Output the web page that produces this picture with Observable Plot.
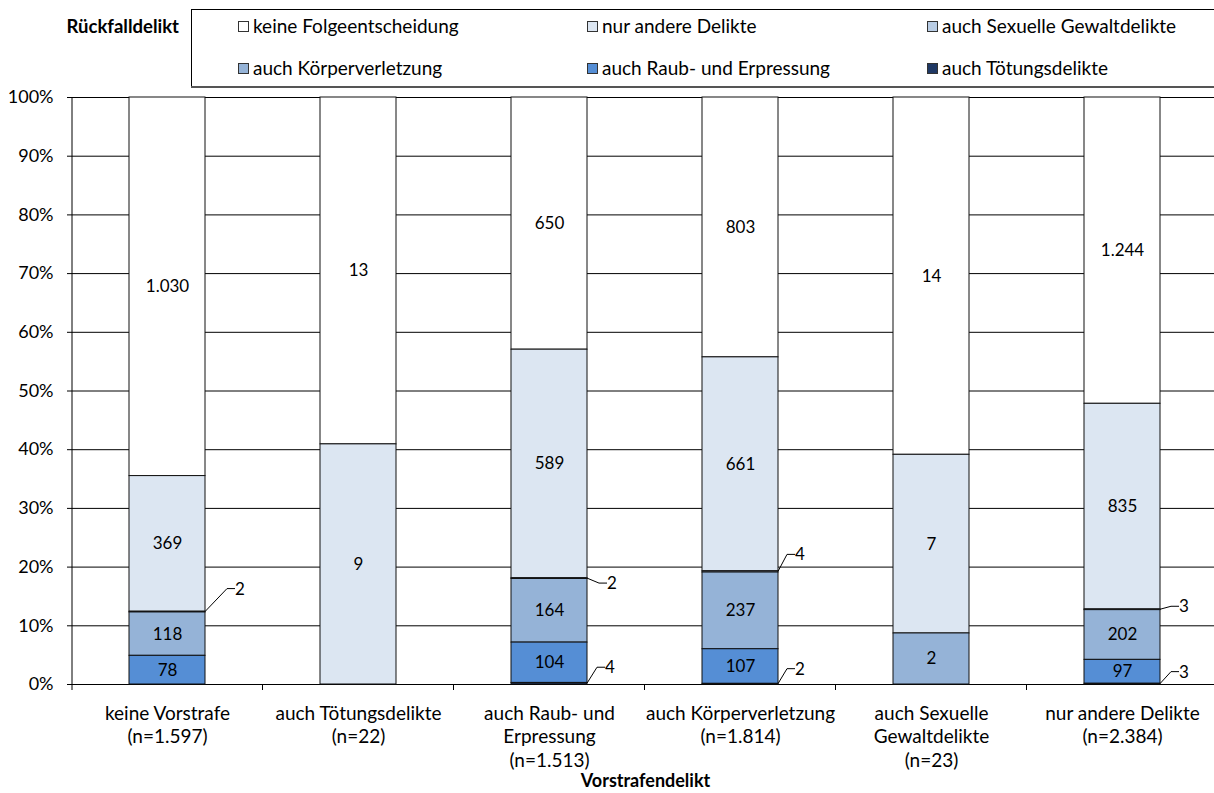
<!DOCTYPE html>
<html><head><meta charset="utf-8">
<script src="https://cdn.jsdelivr.net/npm/d3@7"></script>
<script src="https://cdn.jsdelivr.net/npm/@observablehq/plot@0.6"></script>
<style>
html,body{margin:0;padding:0;background:#fff;}
#wrap{position:relative;width:1214px;height:793px;overflow:hidden;font-family:Lato,sans-serif;}
#wrap > svg{position:absolute;left:0;top:0;}
</style></head><body><div id="wrap"></div>
<script>
// ---- data ----
const categories = ["keine Vorstrafe", "auch Tötungsdelikte", "auch Raub- und Erpressung", "auch Körperverletzung", "auch Sexuelle Gewaltdelikte", "nur andere Delikte"];
const categoryLabels = [["keine Vorstrafe", "(n=1.597)"], ["auch Tötungsdelikte", "(n=22)"], ["auch Raub- und", "Erpressung", "(n=1.513)"], ["auch Körperverletzung", "(n=1.814)"], ["auch Sexuelle", "Gewaltdelikte", "(n=23)"], ["nur andere Delikte", "(n=2.384)"]];
const series = ["keine Folgeentscheidung", "nur andere Delikte", "auch Sexuelle Gewaltdelikte", "auch Körperverletzung", "auch Raub- und Erpressung", "auch Tötungsdelikte"];
const seriesColors = ["#ffffff", "#dce6f2", "#b9cde5", "#95b3d7", "#558ed5", "#1f3864"];
const valKeineFolge = [1030, 13, 650, 803, 14, 1244];
const valNurAndere = [369, 9, 589, 661, 7, 835];
const valSexuell = [2, 0, 2, 4, 0, 3];
const valKoerper = [118, 0, 164, 237, 2, 202];
const valRaub = [78, 0, 104, 107, 0, 97];
const valToetung = [0, 0, 4, 2, 0, 3];
const yTicks = [0, 0.1, 0.2, 0.3, 0.4, 0.5, 0.6, 0.7, 0.8, 0.9, 1];
const yTickLabels = ["0%", "10%", "20%", "30%", "40%", "50%", "60%", "70%", "80%", "90%", "100%"];
const legendTitle = "Rückfalldelikt";
const xTitle = "Vorstrafendelikt";

// ---- build table ----
const seriesValues = [valKeineFolge, valNurAndere, valSexuell, valKoerper, valRaub, valToetung];
const stackOrder = series.slice().reverse(); // bottom -> top
const totals = categories.map((c, i) => seriesValues.reduce((s, arr) => s + arr[i], 0));
const rows = [];
series.forEach((s, j) => categories.forEach((c, i) => {
  const v = seriesValues[j][i];
  if (v > 0) rows.push({cat: c, ci: i, series: s, value: v, frac: v / totals[i]});
}));
const de = d3.formatLocale({decimal: ",", thousands: ".", grouping: [3], currency: ["", "€"]});
const fmt = de.format(",d");
const SMALL = 0.03;

// small segments labelled with leader lines
const leaderRows = [];
categories.forEach((c, i) => {
  let cum = 0;
  stackOrder.forEach(s => {
    const v = seriesValues[series.indexOf(s)][i];
    if (v > 0 && v / totals[i] < SMALL) leaderRows.push({ci: i, cat: c, series: s, value: v, mid: (cum + v / 2) / totals[i]});
    cum += v;
  });
});
const leaderOffsets = {
  "0|auch Sexuelle Gewaltdelikte": [22, -23],
  "2|auch Sexuelle Gewaltdelikte": [12, 5],
  "2|auch Tötungsdelikte": [10, -16],
  "3|auch Sexuelle Gewaltdelikte": [9, -17],
  "3|auch Tötungsdelikte": [9, -15],
  "5|auch Sexuelle Gewaltdelikte": [11, -3],
  "5|auch Tötungsdelikte": [11, -12]
};
const FS_NUM = 17, FS_TXT = 19, FS_Y = 18;

const catRows = categories.map((c, i) => ({cat: c, label: categoryLabels[i].join("\n")}));

const chart = Plot.plot({
  width: 1214, height: 793,
  marginTop: 97, marginBottom: 109, marginLeft: 72, marginRight: -4,
  style: {fontFamily: "Lato, sans-serif", fontSize: FS_NUM + "px", background: "transparent", color: "#000"},
  x: {domain: categories, paddingInner: 0.6, paddingOuter: 0.3, axis: null},
  y: {domain: [0, 1], axis: null},
  color: {domain: series, range: seriesColors},
  marks: [
    Plot.ruleY(yTicks, {y: d => d, stroke: "#000", strokeWidth: 1, insetLeft: -5}),
    Plot.barY(rows, Plot.stackY({x: "cat", y: "value", fill: "series", order: stackOrder, offset: "normalize", stroke: "#111", strokeWidth: 1})),
    Plot.text(rows, Plot.stackY({x: "cat", y: "value", z: "series", order: stackOrder, offset: "normalize",
      text: d => d.frac >= SMALL ? fmt(d.value) : null, fill: "#000", fontSize: FS_NUM})),
    Plot.text(yTicks, {y: d => d, text: (d, i) => yTickLabels[i], frameAnchor: "left", textAnchor: "end", dx: -19, fontSize: FS_Y, fill: "#000"}),
    Plot.text(catRows, {x: "cat", text: "label", frameAnchor: "bottom", lineAnchor: "top", dy: 18.5, lineHeight: 23.5 / FS_TXT, fontSize: FS_TXT, fill: "#000"}),
    Plot.text([xTitle], {text: d => d, frameAnchor: "bottom", lineAnchor: "middle", dy: 97, fontSize: 18, fontWeight: "bold", fill: "#000"}),
    (index, scales, values, dimensions) => {
      const x = scales.x, y = scales.y;
      const bw = typeof x.bandwidth === "function" ? x.bandwidth() : 76;
      const step = typeof x.step === "function" ? x.step() : 190.7;
      const g = d3.create("svg:g");
      const left = dimensions.marginLeft;
      g.append("line").attr("x1", left).attr("x2", left).attr("y1", y(1)).attr("y2", y(0) + 6).attr("stroke", "#000");
      categories.forEach(c => {
        const xb = x(c) + bw / 2 + step / 2;
        g.append("line").attr("x1", xb).attr("x2", xb).attr("y1", y(0)).attr("y2", y(0) + 6).attr("stroke", "#000");
      });
      leaderRows.forEach(r => {
        const [ddx, ddy] = leaderOffsets[r.ci + "|" + r.series] || [11, -15];
        const xr = x(r.cat) + bw, y0 = y(r.mid);
        g.append("path").attr("d", `M${xr},${y0}L${xr + ddx},${y0 + ddy}L${xr + ddx + 8},${y0 + ddy}`)
          .attr("fill", "none").attr("stroke", "#000").attr("stroke-width", 1);
        g.append("text").attr("x", xr + ddx + 13).attr("y", y0 + ddy).attr("dy", "0.35em")
          .attr("font-size", FS_NUM).attr("fill", "#000").text(fmt(r.value));
      });
      return g.node();
    }
  ]
});
const wrap = document.getElementById("wrap");
wrap.appendChild(chart);

// ---- legend ----
const leg = d3.select(wrap).append("svg").attr("width", 1214).attr("height", 95)
  .style("font-family", "Lato, sans-serif").style("font-size", FS_TXT + "px");
leg.append("text").attr("x", 179).attr("y", 33).attr("text-anchor", "end").attr("font-weight", "bold").attr("font-size", 18.5).text(legendTitle);
leg.append("rect").attr("x", 191.5).attr("y", 9.5).attr("width", 1100).attr("height", 77).attr("fill", "none").attr("stroke", "#000");
leg.append("line").attr("x1", 191).attr("x2", 1214).attr("y1", 87).attr("y2", 87).attr("stroke", "#555").attr("stroke-width", 2);
const colX = [238, 587, 927], rowBase = [33, 75];
series.forEach((s, j) => {
  const cx = colX[j % 3], by = rowBase[Math.floor(j / 3)];
  leg.append("rect").attr("x", cx + 0.5).attr("y", by - 11.5).attr("width", 10).attr("height", 10)
    .attr("fill", seriesColors[j]).attr("stroke", "#333");
  leg.append("text").attr("x", cx + 15).attr("y", by).text(s);
});
</script></body></html>
